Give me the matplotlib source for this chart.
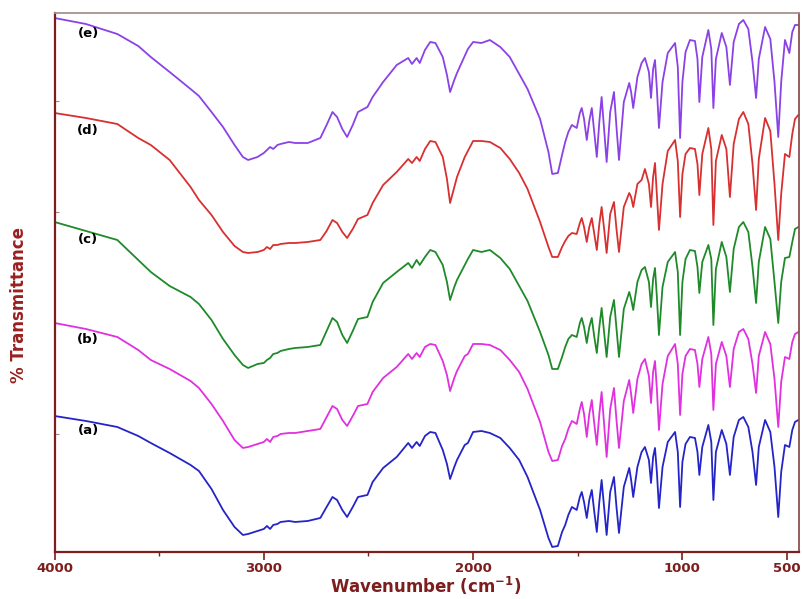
import matplotlib.pyplot as plt

# FTIR spectra (a)-(e): shared wavenumber grid (cm-1)
wavenumber = [
    4000, 3850, 3700, 3600, 3540, 3450, 3350, 3310, 3250, 3195,
    3140, 3100, 3075, 3030, 3000, 2985, 2970, 2955, 2935, 2920,
    2880, 2850, 2790, 2730, 2700, 2672, 2650, 2625, 2602, 2575,
    2550, 2505, 2480, 2430, 2365, 2310, 2292, 2270, 2255, 2230,
    2205, 2180, 2145, 2125, 2110, 2090, 2077, 2040, 2025, 2000,
    1960, 1920, 1870, 1825, 1780, 1740, 1680, 1640, 1622, 1595,
    1575, 1560, 1545, 1528, 1505, 1490, 1481, 1470, 1457, 1445,
    1433, 1421, 1409, 1397, 1386, 1374, 1362, 1345, 1327, 1315,
    1303, 1280, 1254, 1245, 1235, 1215, 1195, 1179, 1160, 1150,
    1140, 1131, 1122, 1112, 1095, 1070, 1035, 1022, 1011, 1000,
    985, 964, 940, 928, 919, 905, 876, 862, 852, 840,
    812, 790, 773, 755, 730, 709, 685, 665, 648, 635,
    605, 580, 560, 542, 528, 510, 489, 475, 462, 446,
]

# transmittance (a.u.), before vertical stacking
trans_a = [
    136, 131, 125, 116, 109, 99, 87, 81, 63, 42,
    25, 17, 18, 21, 23, 26, 23, 27, 28, 30,
    31, 30, 31, 34, 45, 55, 52, 42, 35, 45,
    55, 57, 70, 84, 95, 109, 104, 110, 106, 116,
    120, 119, 102, 88, 73, 85, 92, 107, 109, 120,
    121, 119, 114, 104, 92, 75, 42, 14, 5, 6,
    20, 27, 37, 45, 42, 55, 60, 50, 34, 52,
    62, 40, 20, 50, 72, 45, 17, 60, 75, 45,
    19, 65, 84, 72, 55, 85, 100, 105, 92, 69,
    95, 104, 80, 44, 85, 110, 120, 100, 45, 90,
    108, 115, 114, 100, 77, 105, 127, 110, 52, 100,
    122, 108, 77, 115, 132, 135, 125, 100, 67, 105,
    132, 120, 85, 35, 80, 107, 105, 122, 130, 132,
]
trans_b = [
    141, 135, 127, 114, 104, 95, 83, 76, 60, 43,
    24, 16, 17, 20, 22, 25, 22, 27, 28, 30,
    31, 31, 33, 35, 47, 58, 55, 44, 38, 48,
    58, 60, 72, 86, 97, 110, 105, 111, 107, 117,
    120, 119, 103, 89, 73, 86, 93, 108, 110, 120,
    120, 119, 114, 104, 92, 75, 42, 12, 3, 4,
    18, 25, 35, 43, 40, 55, 62, 50, 27, 50,
    64, 40, 19, 50, 72, 40, 7, 55, 76, 44,
    16, 63, 84, 70, 51, 85, 100, 105, 88, 61,
    92, 103, 75, 34, 80, 108, 120, 100, 49, 90,
    108, 115, 114, 100, 77, 105, 127, 110, 54, 100,
    122, 108, 77, 115, 132, 135, 125, 100, 71, 108,
    132, 120, 85, 37, 82, 107, 105, 122, 130, 132,
]
trans_c = [
    155, 146, 137, 117, 105, 91, 80, 73, 57, 38,
    22, 12, 9, 13, 14, 17, 19, 23, 24, 26,
    28, 29, 30, 32, 46, 59, 55, 42, 34, 46,
    58, 60, 75, 94, 105, 114, 109, 117, 112, 120,
    127, 125, 112, 95, 77, 90, 97, 112, 118, 127,
    125, 127, 119, 108, 91, 76, 45, 22, 8, 8,
    20, 30, 38, 42, 40, 54, 59, 50, 34, 50,
    59, 40, 24, 50, 69, 45, 20, 60, 77, 48,
    20, 68, 85, 78, 67, 95, 107, 110, 95, 70,
    98, 109, 80, 42, 90, 115, 125, 105, 42, 95,
    118, 127, 126, 110, 84, 115, 132, 118, 52, 108,
    135, 120, 85, 128, 150, 155, 145, 110, 74, 115,
    150, 138, 95, 54, 95, 119, 120, 135, 148, 150,
]
trans_d = [
    156, 151, 145, 131, 124, 109, 82, 69, 54, 37,
    23, 17, 16, 17, 19, 22, 20, 24, 24, 25,
    26, 26, 27, 29, 38, 49, 46, 37, 31, 40,
    50, 54, 66, 84, 97, 110, 106, 112, 108, 120,
    128, 127, 112, 90, 66, 82, 92, 112, 118, 128,
    128, 127, 121, 110, 96, 80, 47, 22, 12, 12,
    22, 28, 33, 36, 35, 46, 51, 42, 27, 42,
    51, 35, 19, 45, 62, 40, 16, 55, 67, 40,
    17, 62, 76, 72, 62, 85, 89, 100, 85, 62,
    92, 106, 75, 39, 85, 118, 129, 108, 52, 95,
    115, 121, 120, 105, 74, 115, 141, 120, 44, 108,
    134, 120, 72, 125, 150, 157, 145, 105, 59, 110,
    151, 138, 85, 29, 75, 115, 112, 135, 150, 154,
]
trans_e = [
    159, 153, 143, 131, 120, 105, 88, 81, 65, 50,
    32, 20, 17, 20, 24, 27, 30, 28, 32, 33,
    35, 34, 34, 39, 52, 65, 60, 48, 40, 52,
    65, 70, 80, 95, 112, 119, 113, 119, 114, 127,
    135, 134, 120, 102, 85, 97, 104, 121, 128, 135,
    134, 137, 130, 120, 103, 88, 58, 25, 3, 4,
    22, 35, 45, 52, 49, 64, 69, 58, 37, 56,
    69, 44, 20, 55, 80, 48, 15, 65, 85, 50,
    17, 75, 94, 85, 69, 100, 114, 119, 105, 79,
    108, 117, 88, 49, 95, 124, 134, 110, 39, 95,
    125, 137, 136, 118, 75, 120, 147, 128, 69, 118,
    144, 130, 92, 135, 153, 157, 148, 115, 79, 118,
    150, 138, 95, 40, 95, 137, 124, 145, 152, 152,
]

series = [trans_a, trans_b, trans_c, trans_d, trans_e]
labels = ["(a)", "(b)", "(c)", "(d)", "(e)"]
colors = ["#2424c8", "#e030e0", "#1f8a2a", "#d83030", "#8a42e6"]

# vertical stacking and label placement (plot layout, not data)
offsets = [0, 88, 175, 283, 375]
label_y = [121, 212, 312, 421, 518]

maroon = "#7c1e1e"


def main():
    fig = plt.figure(figsize=(8.03, 5.99), dpi=100)
    ax = fig.add_axes([0.0679, 0.0785, 0.9271, 0.8998])

    for values, off, color in zip(series, offsets, colors):
        ax.plot(wavenumber, [v + off for v in values], color=color, lw=1.3)

    for text, y in zip(labels, label_y):
        ax.text(3840, y, text, ha="center", va="center",
                fontsize=9.5, fontweight="bold", color="black")

    ax.set_xlim(4000, 443)
    ax.set_ylim(0, 539)

    ax.set_xticks([4000, 3000, 2000, 1000, 500])
    ax.set_xticks([3500, 2500, 1500], minor=True)
    ax.tick_params(axis="x", which="major", direction="out", length=6,
                   width=1.2, color=maroon, labelcolor=maroon, labelsize=9.5,
                   pad=1.5)
    ax.tick_params(axis="x", which="minor", direction="out", length=3,
                   width=1.0, color=maroon)
    for lab in ax.get_xticklabels():
        lab.set_fontweight("bold")

    ax.set_yticks([118, 229, 340, 451])
    ax.tick_params(axis="y", direction="in", length=3, width=0.8,
                   color="#b08080", labelleft=False)

    for side in ["left", "bottom"]:
        ax.spines[side].set_color(maroon)
        ax.spines[side].set_linewidth(1.6)
    ax.spines["right"].set_color("#8a5050")
    ax.spines["right"].set_linewidth(1.3)
    ax.spines["top"].set_color("#a89090")
    ax.spines["top"].set_linewidth(1.3)

    ax.set_xlabel(r"Wavenumber (cm$\mathbf{^{-1}}$)", fontsize=12,
                  fontweight="bold", color=maroon)
    ax.xaxis.set_label_coords(0.499, -0.042)
    ax.set_ylabel("% Transmittance", fontsize=12, fontweight="bold",
                  color="#9a2020",
                  family=["Liberation Sans Narrow", "DejaVu Sans"])
    ax.yaxis.set_label_coords(-0.036, 0.458)

    fig.savefig("out.png", dpi=100)


if __name__ == "__main__":
    main()
